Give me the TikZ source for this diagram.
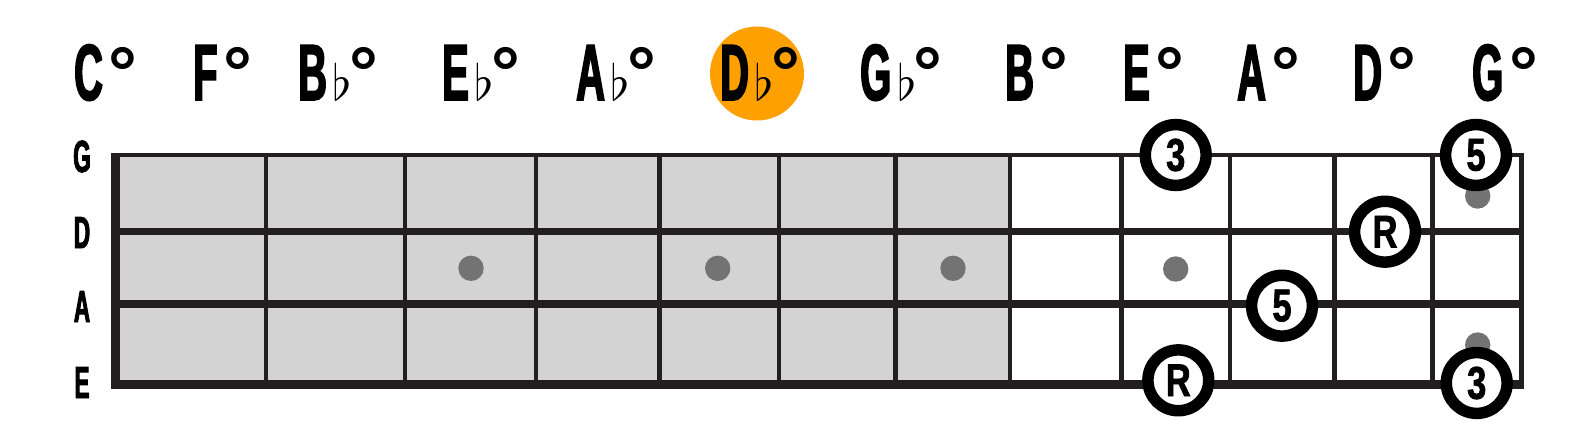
\documentclass[tikz,border=0pt]{standalone}
\usepackage{fontspec}
\newfontfamily\fretfont[FakeStretch=0.5,FakeBold=2]{Liberation Sans}
\newfontfamily\ringfont[FakeStretch=0.75,FakeBold=1.5]{Liberation Sans}
\newfontfamily\degfont{Liberation Sans}
\definecolor{boardgray}{RGB}{211,211,211}
\definecolor{inlaygray}{RGB}{115,115,115}
\definecolor{fretink}{RGB}{35,31,32}
\definecolor{keyorange}{RGB}{254,161,0}
\newcommand{\degr}{\raisebox{3pt}{\degfont\bfseries\fontsize{72}{72}\selectfont °}}
\newcommand{\flt}{\scalebox{5}{\fontsize{10}{12}\selectfont$\flat$}}
\newcommand{\dimlab}[1]{#1\hspace{6pt}\degr}
\newcommand{\fdimlab}[1]{#1\hspace{6pt}\flt\hspace{-3pt}\degr}
\tikzset{
  toplab/.style={anchor=base west, inner sep=0pt, font=\fretfont\bfseries\fontsize{79.6}{80}\selectfont},
  strlab/.style={anchor=base, inner sep=0pt, font=\fretfont\bfseries\fontsize{45}{45}\selectfont},
  fretline/.style={fretink, line width=4.3pt},
  inlay/.style={fill=inlaygray},
  tone/.style={circle, draw=black, fill=white, line width=11.5pt, minimum size=60.8pt, inner sep=0pt, font=\ringfont\bfseries\fontsize{46}{46}\selectfont},
}

\begin{document}
\begin{tikzpicture}[x=1pt,y=-1pt]
\useasboundingbox (0,0) rectangle (1595,428);
\node[circle, fill=keyorange, minimum size=94pt, inner sep=0pt] (key) at (757,73.5) {};
\foreach \x/\n/\txt in {74/nc/{\dimlab{C}}, 193/nf/{\dimlab{F}}, 298/nbb/{\fdimlab{B}}, 442/neb/{\fdimlab{E}}, 576/nab/{\fdimlab{A}}, 720/ndb/{\fdimlab{D}}, 860/ngb/{\fdimlab{G}}, 1005/nb/{\dimlab{B}}, 1123/ne/{\dimlab{E}}, 1237/na/{\dimlab{A}}, 1353/nd/{\dimlab{D}}, 1472/ng/{\dimlab{G}}}
  \node[toplab] (\n) at (\x,100) {\txt};
\fill[boardgray] (115.5,154.7) rectangle (1010,384.7);
\foreach \x/\y in {471/268.3, 717.7/268.3, 953/268.3, 1175.7/269, 1477.7/196, 1477.7/345}
  \fill[inlay] (\x,\y) circle[radius=12.7pt];
\foreach \y/\w in {154.7/4, 231.7/6.5, 304/8, 384.7/9}
  \draw[fretink, line width=\w pt] (111,\y) -- (1523.8,\y);
\foreach \x in {266,404.7,536,659.5,779,895.5,1010,1121.5,1230,1334.5,1432.5}
  \draw[fretline] (\x,154.7) -- (\x,384.7);
\draw[fretink, line width=4.7pt] (1521.5,152.7) -- (1521.5,389.2);
\draw[fretink, line width=9pt] (115.5,152.7) -- (115.5,389.3);
\foreach \y/\s in {172/G, 248/D, 322/A, 398/E}
  \node[strlab] (s\s) at (82,\y) {\s};
\node[tone] (g3) at (1175.7,155) {3};
\node[tone] (g5) at (1476,155) {5};
\node[tone] (dr) at (1385,231.7) {R};
\node[tone] (a5) at (1282,305.7) {5};
\node[tone] (er) at (1178.3,380.3) {R};
\node[tone] (e3) at (1476.7,383) {3};
\end{tikzpicture}
\end{document}
